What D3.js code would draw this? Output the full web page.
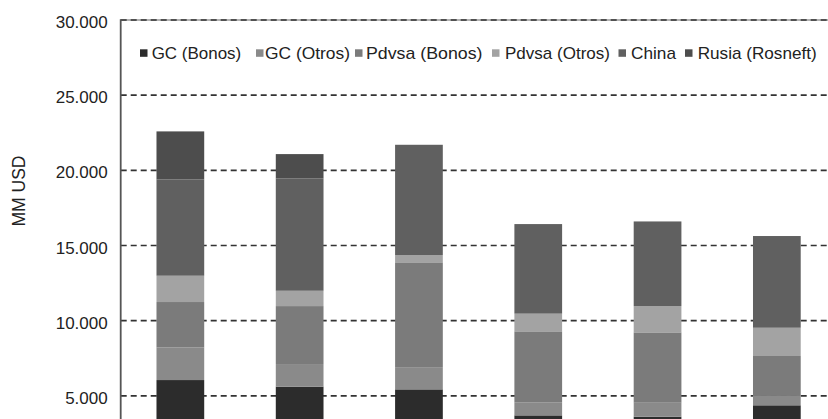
<!DOCTYPE html>
<html>
<head>
<meta charset="utf-8">
<script src="https://cdn.jsdelivr.net/npm/d3@7/dist/d3.min.js"></script>
<style>
  html, body { margin: 0; padding: 0; background: #fff; overflow: hidden; }
  svg { display: block; font-family: "Liberation Sans", Arial, sans-serif; }
</style>
</head>
<body>
<svg id="chart" width="828" height="419"></svg>
<script>
// ---- Data (MM USD) ----
const categories = ["2017", "2018", "2019", "2020", "2021", "2022"];
const seriesNames = ["GC (Bonos)", "GC (Otros)", "Pdvsa (Bonos)", "Pdvsa (Otros)", "China", "Rusia (Rosneft)"];
const gcBonos     = [6050, 5610, 5430, 3700, 3610, 4370];
const gcOtros     = [2175, 1505, 1440, 850, 930, 620];
const pdvsaBonos  = [3015, 3855, 7010, 4740, 4680, 2660];
const pdvsaOtros  = [1750, 1020, 484, 1177, 1750, 1880];
const china       = [6400, 7475, 7336, 5958, 5630, 6100];
const rusia       = [3200, 1615, 0, 0, 0, 0];
const yTicks = [5000, 10000, 15000, 20000, 25000, 30000];
const yTickLabels = ["5.000", "10.000", "15.000", "20.000", "25.000", "30.000"];
const yTitle = "MM USD";
const colors = ["#2c2c2c", "#8a8a8a", "#7b7b7b", "#a3a3a3", "#606060", "#4d4d4d"];

const seriesValues = [gcBonos, gcOtros, pdvsaBonos, pdvsaOtros, china, rusia];
const rows = categories.map((c, i) => {
  const r = { cat: c };
  seriesNames.forEach((s, j) => { r[s] = seriesValues[j][i]; });
  return r;
});

const svg = d3.select("#chart");
const x0 = 120.7, x1 = 836.5, yTop = 20, yBottom = 471;

const x = d3.scaleBand().domain(categories).range([x0, x1]).paddingInner(0.6).paddingOuter(0.3);
const y = d3.scaleLinear().domain([0, 30000]).range([yBottom, yTop]);
const color = d3.scaleOrdinal().domain(seriesNames).range(colors);

// gridlines
const grid = svg.append("g");
grid.append("line")
  .attr("x1", x0).attr("x2", 828).attr("y1", y(30000)).attr("y2", y(30000))
  .attr("stroke", "#999").attr("stroke-width", 1.6);
grid.selectAll("line.g").data(yTicks).join("line")
  .attr("class", "g")
  .attr("x1", x0).attr("x2", 828)
  .attr("y1", d => y(d)).attr("y2", d => y(d))
  .attr("stroke", "#333").attr("stroke-width", 1.6)
  .attr("stroke-dasharray", "6,4");

// bars
const stack = d3.stack().keys(seriesNames)(rows);
svg.append("g").selectAll("g").data(stack).join("g")
  .attr("fill", d => color(d.key))
  .selectAll("rect").data(d => d).join("rect")
  .attr("x", d => x(d.data.cat))
  .attr("width", x.bandwidth())
  .attr("y", d => y(d[1]))
  .attr("height", d => y(d[0]) - y(d[1]));

// y axis
const yAxis = d3.axisLeft(y).tickValues(yTicks)
  .tickFormat((d, i) => yTickLabels[i]).tickSize(0).tickPadding(13);
const ag = svg.append("g").attr("transform", `translate(${x0},0)`).call(yAxis);
ag.select(".domain").remove();
ag.append("line").attr("x1", 0).attr("x2", 0).attr("y1", yTop - 0.8).attr("y2", yBottom)
  .attr("stroke", "#555").attr("stroke-width", 1.8);
ag.selectAll(".tick text")
  .attr("font-size", 17).attr("fill", "#222")
  .attr("font-family", "'Liberation Sans', Arial, sans-serif")
  .attr("dy", "0.45em");

// y title
svg.append("text")
  .attr("transform", "translate(24.5,191) rotate(-90)")
  .attr("text-anchor", "middle")
  .attr("font-size", 17.5).attr("fill", "#222")
  .text(yTitle);

// legend
const legendSq = [140, 256, 355, 492, 618.5, 685];
const legendTx = [151.7, 265, 366, 505, 631, 697.7];
const legendW  = [89.5, 85, 116.5, 105, 45, 119];
const lg = svg.append("g");
seriesNames.forEach((s, i) => {
  lg.append("rect").attr("x", legendSq[i]).attr("y", 49.3)
    .attr("width", 7.5).attr("height", 7.5).attr("fill", color(s));
  lg.append("text").attr("x", legendTx[i]).attr("y", 59.3)
    .attr("font-size", 17).attr("fill", "#222")
    .attr("textLength", legendW[i]).attr("lengthAdjust", "spacingAndGlyphs")
    .text(s);
});
</script>
</body>
</html>
